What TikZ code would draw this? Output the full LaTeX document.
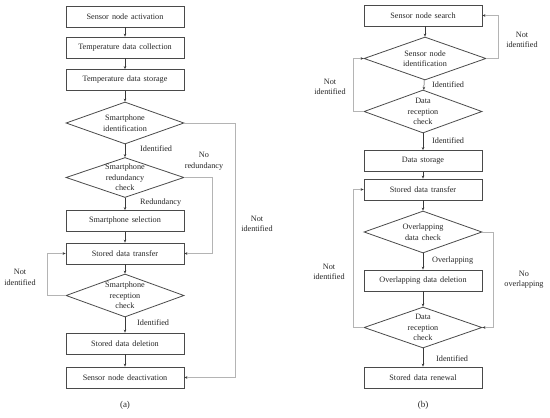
\documentclass[tikz,border=0pt]{standalone}
\usepackage{fontspec}
\setmainfont{Liberation Serif}[WordSpace=1.5]
\usetikzlibrary{shapes.geometric,arrows.meta}
\definecolor{edgec}{HTML}{4A4A4A}
\definecolor{linec}{HTML}{3A3A3A}
\definecolor{loopc}{HTML}{B4B4B4}
\tikzset{
  x=1pt,y=-1pt,
  every node/.style={font=\fontsize{8.2}{10.5}\selectfont,text=black!85},
  stepbox/.style={draw=edgec,line width=0.8pt,minimum width=118pt,minimum height=21pt,inner sep=0pt},
  decbox/.style={draw=edgec,line width=0.8pt,diamond,minimum width=118pt,minimum height=42pt,inner sep=0pt},
  dtext/.style={align=center,inner sep=0pt},
  lbl/.style={align=center,inner sep=0pt},
  flow/.style={draw=linec,line width=0.5pt,-{Stealth[length=3pt,width=2.6pt]}},
  loopl/.style={draw=loopc,line width=0.9pt,-{Stealth[length=3pt,width=2.6pt,color=linec]}}
}
\begin{document}
\begin{tikzpicture}
\useasboundingbox (0,0) rectangle (550,418);
% ---------- (a) ----------
\node[stepbox] (b1) at (125,16.5) {Sensor node activation};
\node[stepbox] (b2) at (125,47.5) {Temperature data collection};
\node[stepbox] (b3) at (125,80) {Temperature data storage};
\node[decbox] (d1) at (125,123) {};
\node[dtext] (t1) at (d1) {Smartphone\\identification};
\node[decbox,minimum height=40pt] (d2) at (125,177.5) {};
\node[dtext] (t2) at (d2) {Smartphone\\redundancy\\check};
\node[stepbox] (b4) at (125,221) {Smartphone selection};
\node[stepbox] (b5) at (125,253.5) {Stored data transfer};
\node[decbox,minimum height=43pt] (d3) at (125,295.5) {};
\node[dtext] (t3) at (d3) {Smartphone\\reception\\check};
\node[stepbox] (b6) at (125,343.5) {Stored data deletion};
\node[stepbox] (b7) at (125,377.5) {Sensor node deactivation};
\node[lbl] (ca) at (125,405) {\fontsize{9}{11}\selectfont(a)};

\draw[flow] (b1) -- (b2);
\draw[flow] (b2) -- (b3);
\draw[flow] (b3) -- (d1);
\draw[flow] (d1) -- (d2);
\draw[flow] (d2) -- (b4);
\draw[flow] (b4) -- (b5);
\draw[flow] (b5) -- (d3);
\draw[flow] (d3) -- (b6);
\draw[flow] (b6) -- (b7);
\coordinate (c1) at (235,123);
\coordinate (c2) at (212,177.5);
\coordinate (c3) at (47,295.5);
\draw[loopl] (d1.east) -- (c1) |- (b7.east);
\draw[loopl] (d2.east) -- (c2) |- (b5.east);
\draw[loopl] (d3.west) -- (c3) |- (b5.west);

\node[lbl,anchor=west] (l1) at (140,149) {Identified};
\node[lbl] (l2) at (204,161) {No\\redundancy};
\node[lbl,anchor=west] (l3) at (140,203) {Redundancy};
\node[lbl] (l4) at (257,224) {Not\\identified};
\node[lbl] (l5) at (20,277.5) {Not\\identified};
\node[lbl,anchor=west] (l6) at (137,323) {Identified};

% ---------- (b) ----------
\node[stepbox] (r1) at (423,15.5) {Sensor node search};
\node[decbox,minimum width=122pt,minimum height=43pt] (e1) at (425,58.5) {};
\node[dtext] (u1) at (e1) {Sensor node\\identification};
\node[decbox,minimum height=43pt] (e2) at (423,111.5) {};
\node[dtext] (u2) at (e2) {Data\\reception\\check};
\node[stepbox] (r2) at (423,161) {Data storage};
\node[stepbox] (r3) at (423,189.5) {Stored data transfer};
\node[decbox] (e3) at (423,232) {};
\node[dtext] (u3) at (e3) {Overlapping\\data check};
\node[stepbox] (r4) at (423,280.5) {Overlapping data deletion};
\node[decbox,minimum height=41pt] (e4) at (423,327.5) {};
\node[dtext] (u4) at (e4) {Data\\reception\\check};
\node[stepbox] (r5) at (423,377.5) {Stored data renewal};
\node[lbl] (cb) at (423,405) {\fontsize{9}{11}\selectfont(b)};

\draw[flow] (r1.south -| e1.north) -- (e1.north);
\draw[flow] (e1) -- (e2);
\draw[flow] (e2) -- (r2);
\draw[flow] (r2) -- (r3);
\draw[flow] (r3) -- (e3);
\draw[flow] (e3) -- (r4);
\draw[flow] (r4) -- (e4);
\draw[flow] (e4) -- (r5);
\coordinate (k1) at (498,58.5);
\coordinate (k2) at (353,111.5);
\coordinate (k3) at (493,232);
\coordinate (k4) at (353,327.5);
\draw[loopl] (e1.east) -- (k1) |- (r1.east);
\draw[loopl] (e2.west) -- (k2) |- (e1.west);
\draw[loopl] (e3.east) -- (k3) |- (e4.east);
\draw[loopl] (e4.west) -- (k4) |- (r3.west);

\node[lbl] (m1) at (522,40) {Not\\identified};
\node[lbl] (m2) at (330,87) {Not\\identified};
\node[lbl,anchor=west] (m3) at (432,85) {Identified};
\node[lbl,anchor=west] (m4) at (432,141) {Identified};
\node[lbl,anchor=west] (m5) at (432,261) {Overlapping};
\node[lbl] (m6) at (329,272) {Not\\identified};
\node[lbl] (m7) at (524,279.5) {No\\overlapping};
\node[lbl,anchor=west] (m8) at (436,359) {Identified};
\end{tikzpicture}
\end{document}
